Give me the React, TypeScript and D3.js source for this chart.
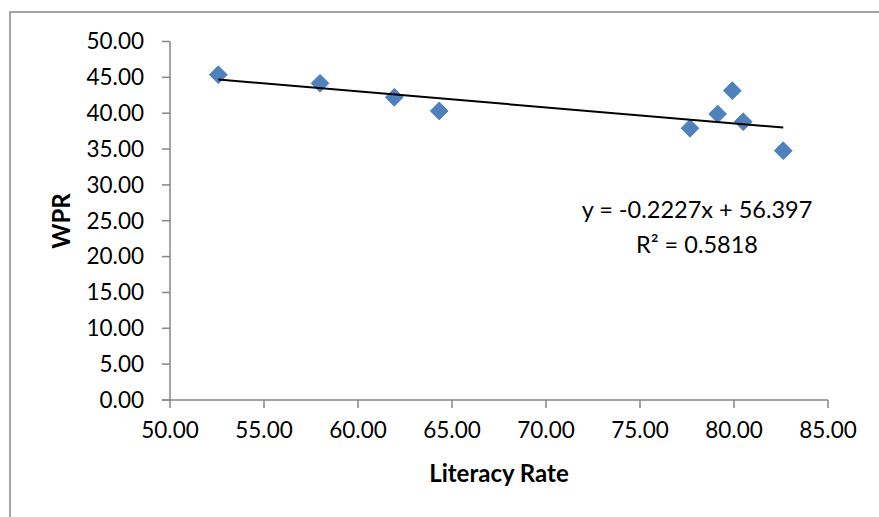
import React from "react";
import * as d3 from "d3";

const literacy = [52.57, 57.98, 61.93, 64.32, 77.66, 79.13, 79.91, 80.49, 82.62];
const wpr = [45.37, 44.17, 42.22, 40.31, 37.89, 39.89, 43.14, 38.81, 34.77];
const xTicks = [50, 55, 60, 65, 70, 75, 80, 85];
const yTicks = [0, 5, 10, 15, 20, 25, 30, 35, 40, 45, 50];
const slope = -0.2227;
const intercept = 56.397;
const eqLine1 = "y = -0.2227x + 56.397";
const eqLine2 = "R² = 0.5818";

const W = 879;
const H = 517;
const axisColor = "#868686";
const font = "Lato, 'Open Sans', sans-serif";

export default function App() {
  const x = d3.scaleLinear().domain([50, 85]).range([170, 828]);
  const y = d3.scaleLinear().domain([0, 50]).range([400, 41.5]);
  const xMin = d3.min(literacy) as number;
  const xMax = d3.max(literacy) as number;
  const trend = d3.line<number>()
    .x((d) => x(d))
    .y((d) => y(slope * d + intercept))([xMin, xMax]);
  const diamond = d3.symbol().type(d3.symbolDiamond2).size(200)();
  return (
    <svg width={W} height={H} style={{ position: "absolute", left: 0, top: 0, background: "#fff" }}>
      <rect x={10} y={12} width={W + 20} height={H + 20} fill="#fff" stroke={axisColor} strokeWidth={1.5} />
      {/* y axis */}
      <line x1={x(50)} x2={x(50)} y1={y(50)} y2={y(0)} stroke={axisColor} strokeWidth={1.5} />
      {yTicks.map((t) => (
        <g key={"y" + t}>
          <line x1={x(50) - 8} x2={x(50)} y1={y(t)} y2={y(t)} stroke={axisColor} strokeWidth={1.5} />
          <text x={144} y={y(t)} dy="0.35em" textAnchor="end" fontFamily={font} fontSize={22.5} fill="#000">
            {t.toFixed(2)}
          </text>
        </g>
      ))}
      {/* x axis */}
      <line x1={x(50) - 8} x2={x(85)} y1={y(0)} y2={y(0)} stroke={axisColor} strokeWidth={1.5} />
      {xTicks.map((t) => (
        <g key={"x" + t}>
          <line x1={x(t)} x2={x(t)} y1={y(0)} y2={y(0) + 8} stroke={axisColor} strokeWidth={1.5} />
          <text x={x(t)} y={438} textAnchor="middle" fontFamily={font} fontSize={22.5} fill="#000">
            {t.toFixed(2)}
          </text>
        </g>
      ))}
      <text x={499} y={482} textAnchor="middle" fontFamily={font} fontWeight="bold" fontSize={24} fill="#000">
        Literacy Rate
      </text>
      <text
        transform={`translate(70,221) rotate(-90)`}
        textAnchor="middle"
        fontFamily={font}
        fontWeight="bold"
        fontSize={24}
        fill="#000"
      >
        WPR
      </text>
      {literacy.map((lx, i) => (
        <path
          key={"p" + i}
          d={diamond as string}
          transform={`translate(${x(lx)},${y(wpr[i])})`}
          fill="#4f81bd"
          stroke="#4a7ebb"
          strokeWidth={1}
        />
      ))}
      <path d={trend as string} fill="none" stroke="#000" strokeWidth={2} />
      <text x={697} y={218} textAnchor="middle" fontFamily={font} fontSize={23.5} fill="#000">
        {eqLine1}
      </text>
      <text x={697} y={253} textAnchor="middle" fontFamily={font} fontSize={23.5} fill="#000">
        {eqLine2}
      </text>
    </svg>
  );
}
